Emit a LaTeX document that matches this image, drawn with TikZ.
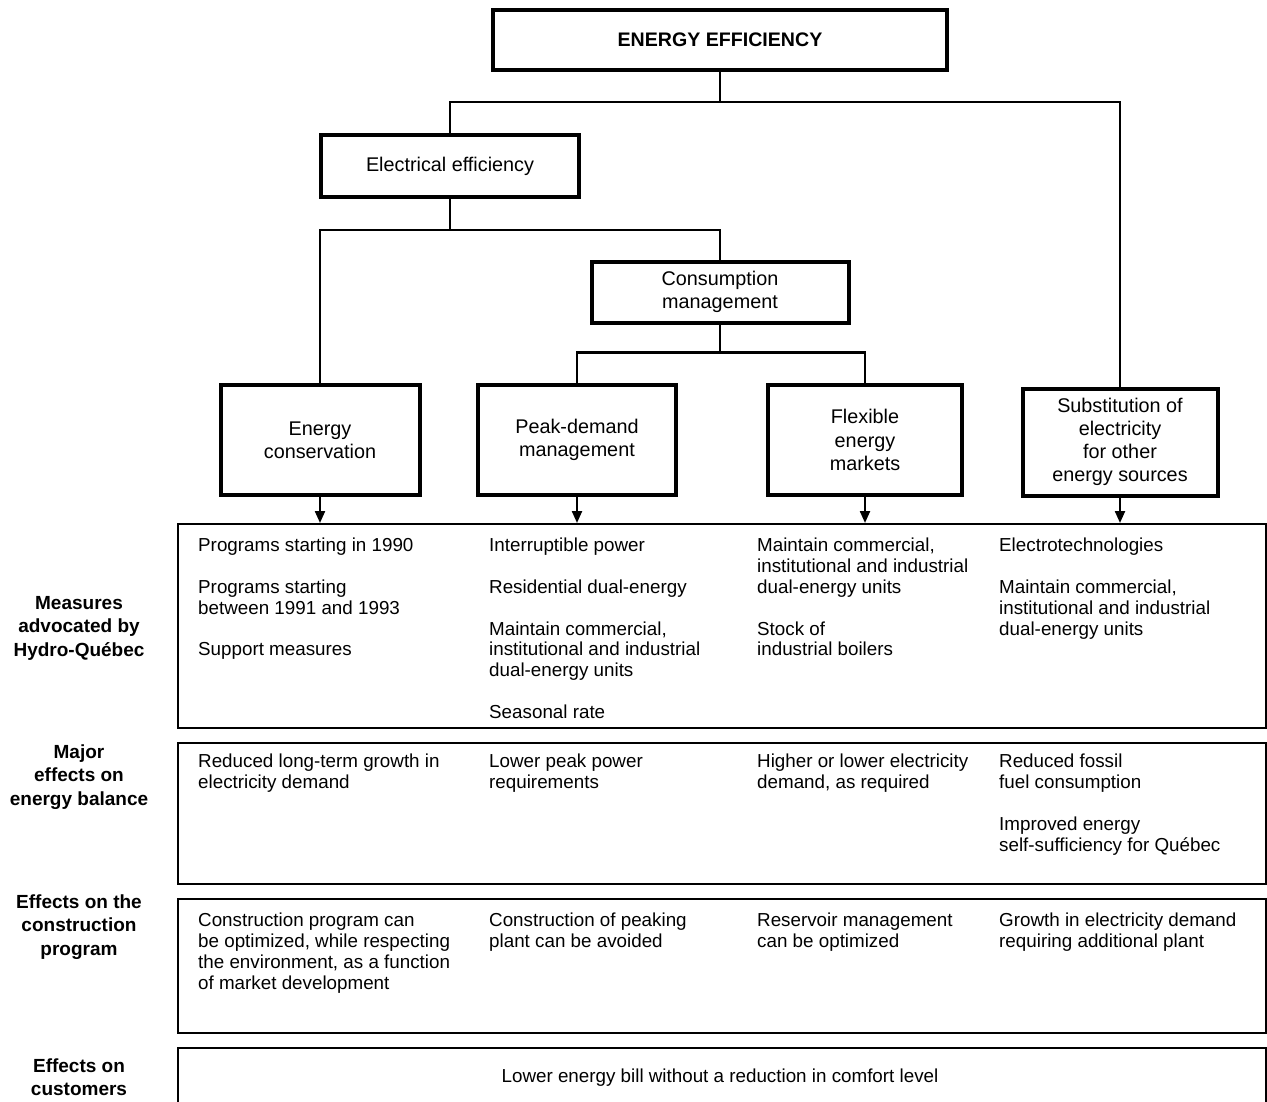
\documentclass[tikz,border=0pt]{standalone}
\usepackage{fontspec}
\setmainfont{Liberation Sans}
\usetikzlibrary{arrows.meta}
\begin{document}
\begin{tikzpicture}[x=1pt,y=-1pt,
  topbox/.style={draw, line width=4pt, align=center, inner sep=0pt, font=\fontsize{19.8}{23.2}\selectfont},
  conn/.style={line width=2.2pt},
  arr/.style={line width=2.2pt, -{Triangle[length=12pt,width=10pt]}},
  panel/.style={draw, line width=2pt, anchor=north west, inner sep=0pt, minimum width=1088pt},
  body/.style={anchor=north west, align=left, inner sep=0pt, font=\fontsize{18.8}{20.8}\selectfont},
  side/.style={align=center, inner sep=0pt, font=\bfseries\fontsize{19}{23.5}\selectfont}]
\useasboundingbox (0,0) rectangle (1267,1101);

% hierarchy boxes
\node[topbox, minimum width=454pt, minimum height=60pt, font=\bfseries\fontsize{19.6}{23}\selectfont] (ee) at (720,40) {ENERGY EFFICIENCY};
\node[topbox, minimum width=258pt, minimum height=62pt] (elec) at (450,166) {Electrical efficiency};
\node[topbox, minimum width=257pt, minimum height=61pt] (cm) at (720,292) {Consumption\\management};
\node[topbox, minimum width=199pt, minimum height=110pt] (econ) at (320,440) {Energy\\conservation};
\node[topbox, minimum width=198pt, minimum height=110pt] (peak) at (577,440) {Peak-demand\\management};
\node[topbox, minimum width=194pt, minimum height=110pt] (flex) at (865,440) {Flexible\\energy\\markets};
\node[topbox, minimum width=195pt, minimum height=107pt] (subs) at (1120,442) {Substitution of\\electricity\\for other\\energy sources};

% panels
\node[panel, minimum height=204pt] (meas) at (177,523) {};
\node[panel, minimum height=141pt] (major) at (177,742) {};
\node[panel, minimum height=134pt] (constr) at (177,898) {};
\node[panel, minimum height=64pt] (cust) at (177,1047) {};

% connectors
\draw[conn] (ee.south) -- ++(0,30) coordinate (j1);
\draw[conn] (elec.north) |- (j1) -| (subs.north);
\draw[conn] (elec.south) -- ++(0,31) coordinate (j2);
\draw[conn] (econ.north) |- (j2) -| (cm.north);
\draw[conn] (cm.south) -- ++(0,28) coordinate (j3);
\draw[conn] (peak.north) |- (j3) -| (flex.north);

\draw[arr] (econ.south) -- (econ.south |- meas.north);
\draw[arr] (peak.south) -- (peak.south |- meas.north);
\draw[arr] (flex.south) -- (flex.south |- meas.north);
\draw[arr] (subs.south) -- (subs.south |- meas.north);

% side labels
\node[side] (s1) at (79,628) {Measures\\advocated by\\Hydro-Québec};
\node[side] (s2) at (79,777) {Major\\effects on\\energy balance};
\node[side] (s3) at (79,927) {Effects on the\\construction\\program};
\node[side] (s4) at (79,1077) {Effects on\\customers};

% measures
\node[body] (m1) at (198,538) {Programs starting in 1990\\[20.8pt]Programs starting\\between 1991 and 1993\\[20.8pt]Support measures};
\node[body] (m2) at (489,538) {Interruptible power\\[20.8pt]Residential dual-energy\\[20.8pt]Maintain commercial,\\institutional and industrial\\dual-energy units\\[20.8pt]Seasonal rate};
\node[body] (m3) at (757,538) {Maintain commercial,\\institutional and industrial\\dual-energy units\\[20.8pt]Stock of\\industrial boilers};
\node[body] (m4) at (999,538) {Electrotechnologies\\[20.8pt]Maintain commercial,\\institutional and industrial\\dual-energy units};

% major effects
\node[body] (e1) at (198,754) {Reduced long-term growth in\\electricity demand};
\node[body] (e2) at (489,754) {Lower peak power\\requirements};
\node[body] (e3) at (757,754) {Higher or lower electricity\\demand, as required};
\node[body] (e4) at (999,754) {Reduced fossil\\fuel consumption\\[20.8pt]Improved energy\\self-sufficiency for Québec};

% construction
\node[body] (c1) at (198,913) {Construction program can\\be optimized, while respecting\\the environment, as a function\\of market development};
\node[body] (c2) at (489,913) {Construction of peaking\\plant can be avoided};
\node[body] (c3) at (757,913) {Reservoir management\\can be optimized};
\node[body] (c4) at (999,913) {Growth in electricity demand\\requiring additional plant};

% customers
\node[anchor=base, inner sep=0pt, font=\fontsize{18.8}{20.8}\selectfont] (u1) at (720,1082) {Lower energy bill without a reduction in comfort level};
\end{tikzpicture}
\end{document}
